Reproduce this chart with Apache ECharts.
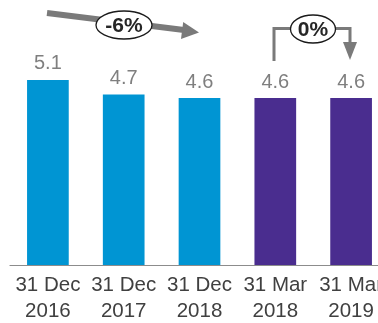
<!DOCTYPE html>
<html>
<head>
<meta charset="utf-8">
<script src="https://cdn.jsdelivr.net/npm/echarts@6/dist/echarts.min.js"></script>
<style>
  html, body { margin: 0; padding: 0; background: #fff; }
  #chart { width: 378px; height: 323px; }
</style>
</head>
<body>
<div id="chart"></div>
<script>
// Period-end values (year-end periods first, then quarter-ends)
const categories = ['31 Dec\n2016', '31 Dec\n2017', '31 Dec\n2018', '31 Mar\n2018', '31 Mar\n2019'];
const values = [5.1, 4.7, 4.6, 4.6, 4.6];
const yearEndCount = 3;
const changeLabels = ['-6%', '0%'];

const FONT = '"Liberation Sans", Arial, sans-serif';
const BLUE = '#0095d3';
const PURPLE = '#4a2d8f';
const ARROW = '#7a7a7a';

const chart = echarts.init(document.getElementById('chart'), null, { renderer: 'canvas' });

function bubble(cx, cy, rx, ry, text) {
  return [
    {
      type: 'ellipse', z: 10,
      shape: { cx: cx, cy: cy, rx: rx, ry: ry },
      style: { fill: '#fff', stroke: '#1a1a1a', lineWidth: 1.3 }
    },
    {
      type: 'text', z: 11,
      x: cx, y: cy + 1,
      style: {
        text: text, fill: '#262626', font: 'bold 21px ' + FONT,
        align: 'center', verticalAlign: 'middle'
      }
    }
  ];
}

chart.setOption({
  animation: false,
  grid: {
    left: 10, top: 11, bottom: 58, right: -11,
    containLabel: false, outerBoundsMode: 'none'
  },
  xAxis: {
    type: 'category',
    data: categories,
    axisLine: { show: true, lineStyle: { color: '#8c8c8c', width: 1.2 } },
    axisTick: { show: false },
    axisLabel: {
      color: '#404040', fontFamily: FONT, fontSize: 20.5,
      lineHeight: 26, margin: 7, interval: 0, hideOverlap: false
    }
  },
  yAxis: {
    type: 'value', min: 0, max: 7,
    show: false, splitLine: { show: false }
  },
  series: [{
    type: 'bar',
    data: values,
    barWidth: '55%',
    itemStyle: {
      color: function (p) { return p.dataIndex < yearEndCount ? BLUE : PURPLE; }
    },
    label: {
      show: true, position: 'top', distance: 6,
      color: '#7f7f7f', fontFamily: FONT, fontSize: 20,
      formatter: function (p) { return p.value.toFixed(1); }
    }
  }],
  graphic: [
    // Year-over-year trend arrow
    {
      type: 'line', z: 5,
      shape: { x1: 47, y1: 13, x2: 184, y2: 30 },
      style: { stroke: ARROW, lineWidth: 6 }
    },
    {
      type: 'polygon', z: 5,
      shape: { points: [[199, 32.5], [183.2, 22], [181, 39]] },
      style: { fill: ARROW }
    },
    ...bubble(124, 25, 28, 14, changeLabels[0]),
    // Quarter-over-quarter elbow arrow
    {
      type: 'polyline', z: 5,
      shape: { points: [[274, 61], [274, 28.5], [350, 28.5], [350, 44]] },
      style: { stroke: ARROW, lineWidth: 3, fill: null }
    },
    {
      type: 'polygon', z: 5,
      shape: { points: [[343, 42], [357, 42], [350, 60]] },
      style: { fill: ARROW }
    },
    ...bubble(313, 29, 22.5, 14, changeLabels[1])
  ]
});
</script>
</body>
</html>
